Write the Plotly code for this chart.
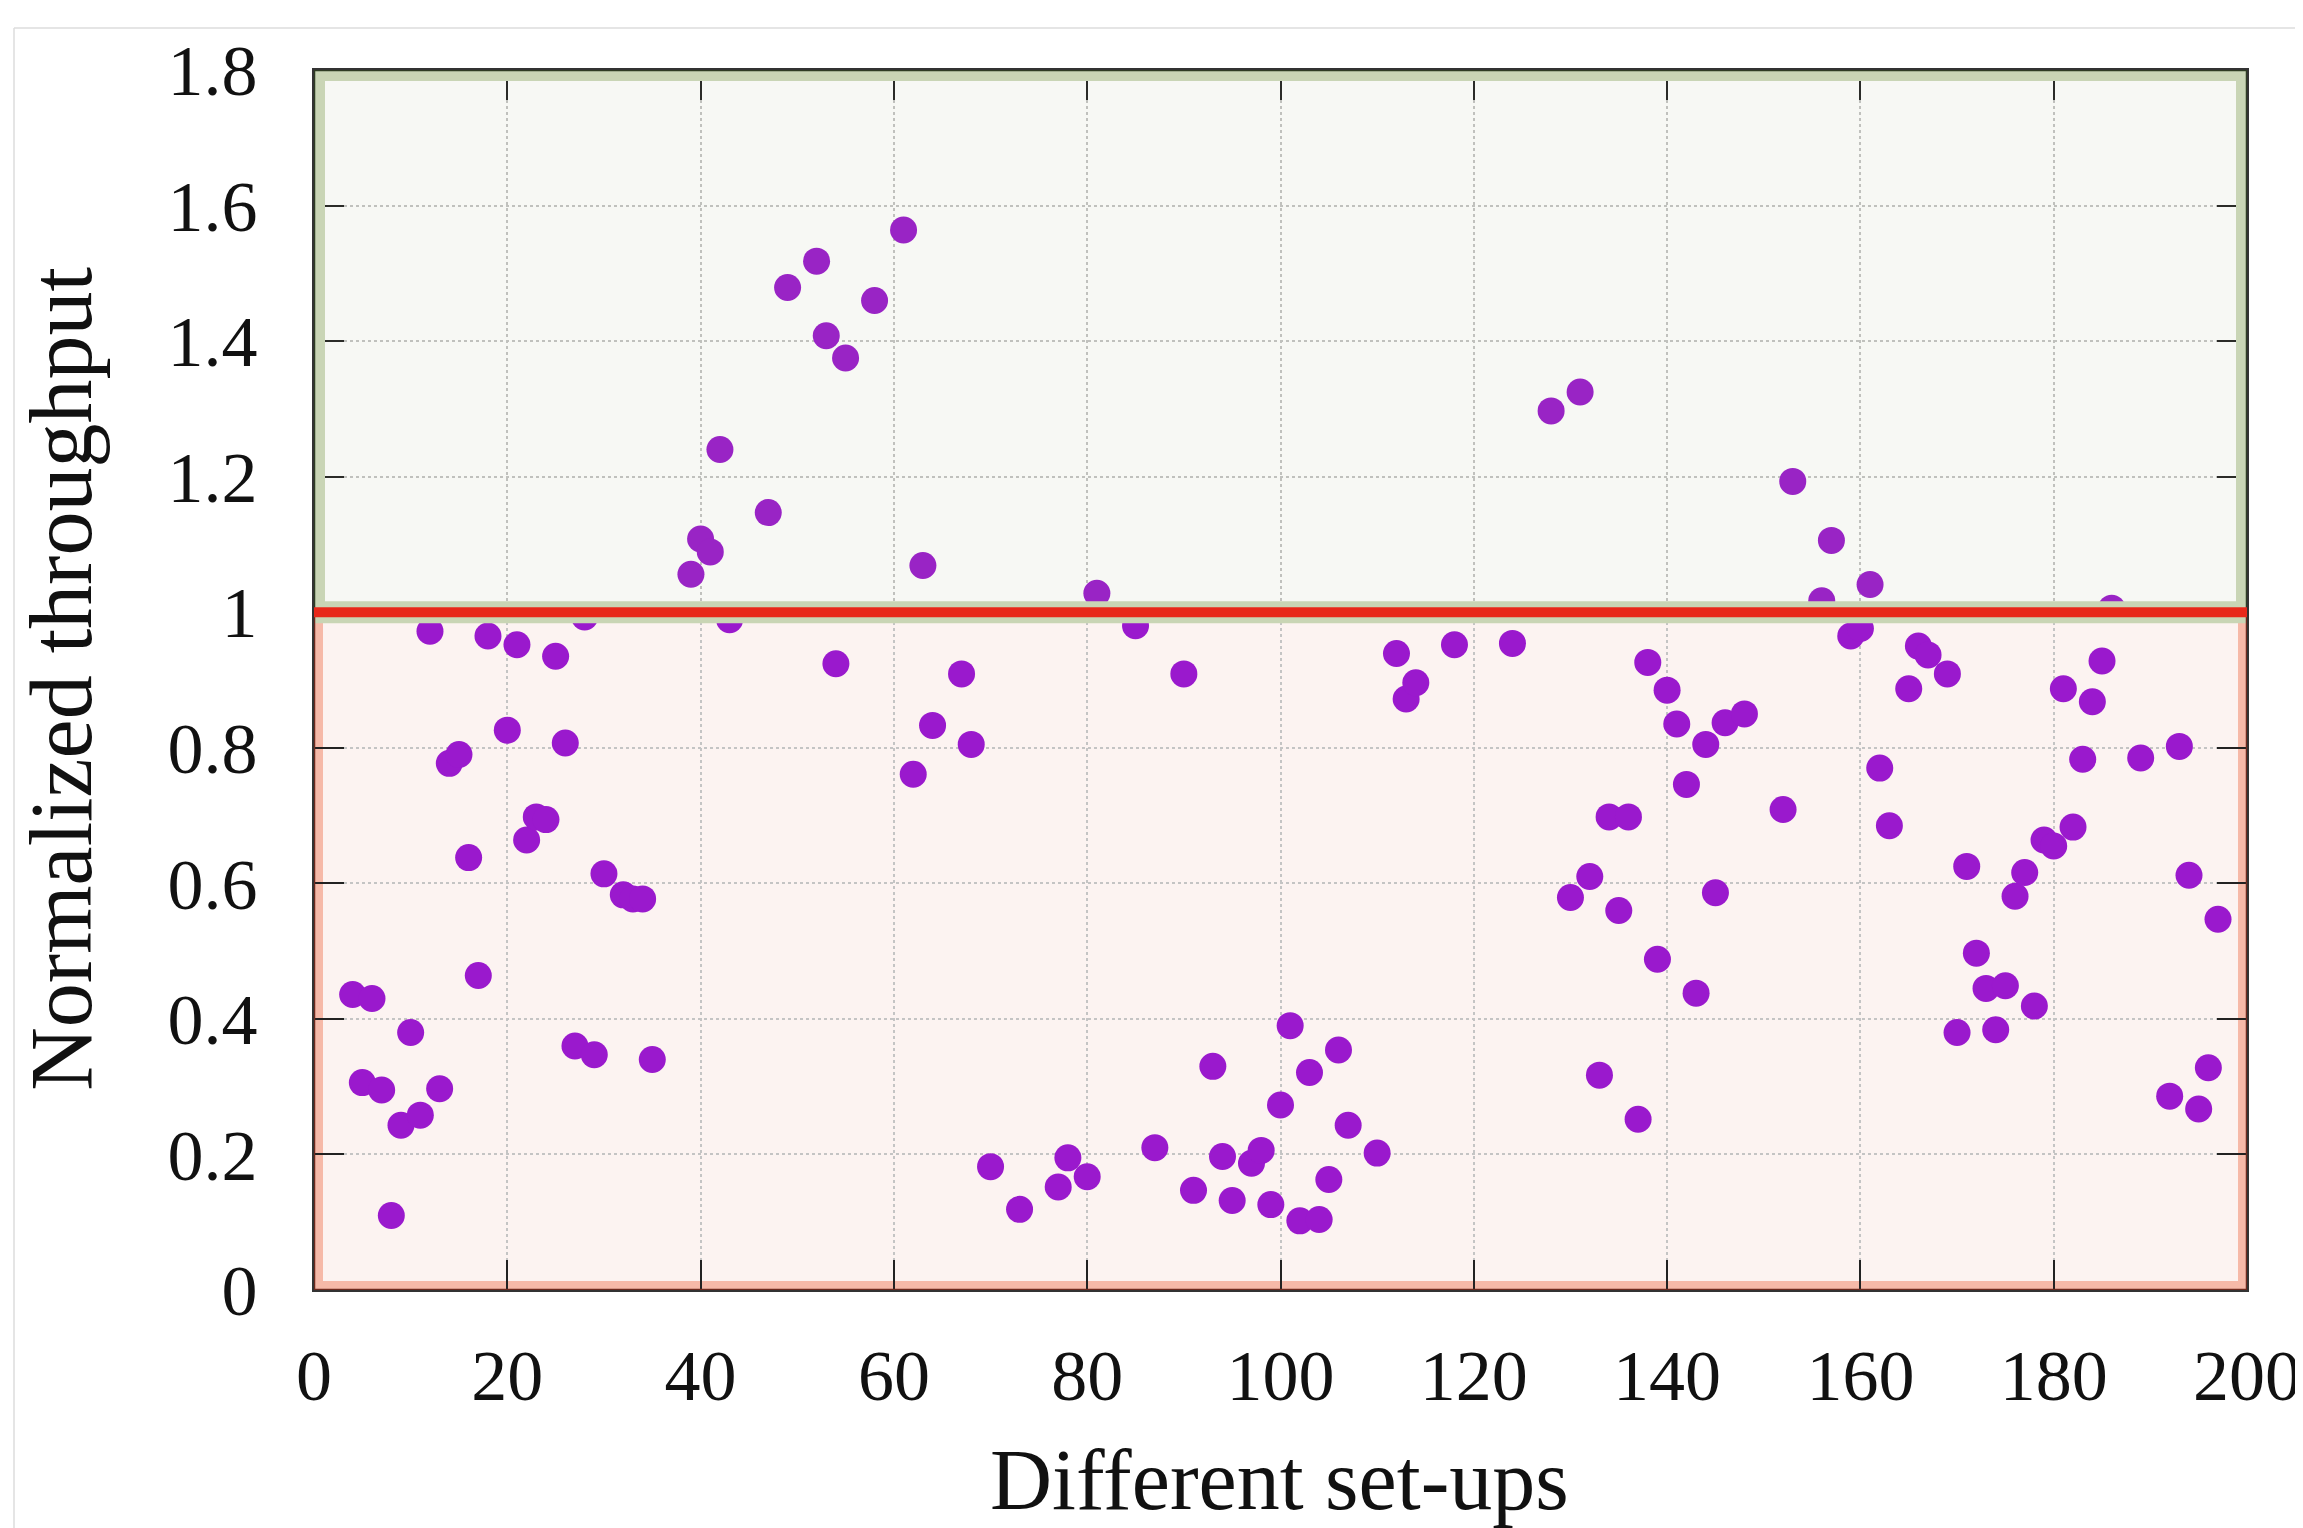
import plotly.graph_objects as go

# Data
setups = [4, 5, 6, 7, 8, 9, 10, 11, 12, 13, 14, 15, 16, 17, 18, 20, 21, 22, 23, 24,
          25, 26, 27, 28, 29, 30, 32, 33, 34, 35, 39, 40, 41, 42, 43, 47, 49, 52, 53, 54,
          55, 58, 61, 62, 63, 64, 67, 68, 70, 73, 77, 78, 80, 81, 85, 87, 90, 91, 93, 94,
          95, 97, 98, 99, 100, 101, 102, 103, 104, 105, 106, 107, 110, 112, 113, 114, 118, 124, 128, 131,
          130, 132, 133, 134, 135, 136, 137, 138, 139, 140, 141, 142, 143, 144, 145, 146, 148, 152, 153, 156,
          157, 159, 160, 161, 162, 163, 165, 166, 167, 169, 170, 171, 172, 173, 174, 175, 176, 177, 178, 179,
          180, 181, 182, 183, 184, 185, 186, 189, 192, 193, 194, 195, 196, 197]
throughput = [0.436, 0.306, 0.43, 0.295, 0.11, 0.243, 0.38, 0.258, 0.972, 0.297, 0.777, 0.79, 0.638, 0.464, 0.965, 0.826, 0.952, 0.664, 0.698, 0.694,
              0.935, 0.807, 0.36, 0.993, 0.347, 0.614, 0.583, 0.577, 0.577, 0.34, 1.056, 1.108, 1.089, 1.24, 0.989, 1.147, 1.479, 1.518, 1.408, 0.924,
              1.375, 1.46, 1.564, 0.761, 1.069, 0.833, 0.909, 0.805, 0.182, 0.119, 0.152, 0.195, 0.167, 1.028, 0.98, 0.21, 0.909, 0.147, 0.33, 0.197,
              0.132, 0.187, 0.206, 0.126, 0.273, 0.39, 0.102, 0.321, 0.104, 0.163, 0.354, 0.243, 0.202, 0.939, 0.872, 0.896, 0.952, 0.954, 1.297, 1.325,
              0.579, 0.61, 0.317, 0.698, 0.56, 0.698, 0.252, 0.926, 0.488, 0.885, 0.835, 0.746, 0.438, 0.805, 0.586, 0.837, 0.85, 0.709, 1.193, 1.017,
              1.106, 0.965, 0.976, 1.041, 0.77, 0.685, 0.887, 0.95, 0.937, 0.909, 0.38, 0.625, 0.497, 0.445, 0.384, 0.449, 0.581, 0.616, 0.419, 0.664,
              0.655, 0.887, 0.683, 0.783, 0.868, 0.928, 1.006, 0.785, 0.286, 0.802, 0.612, 0.267, 0.328, 0.547]

x_ticks = [0, 20, 40, 60, 80, 100, 120, 140, 160, 180, 200]
y_ticks = [0, 0.2, 0.4, 0.6, 0.8, 1.0, 1.2, 1.4, 1.6, 1.8]
y_tick_labels = ["0", "0.2", "0.4", "0.6", "0.8", "1", "1.2", "1.4", "1.6", "1.8"]
threshold = 1.0
x_range = [0, 200]
y_range = [0, 1.8]
x_title = "Different set-ups"
y_title = "Normalized throughput"

FONT = "Liberation Serif"

fig = go.Figure()
fig.add_trace(go.Scatter(
    x=setups, y=throughput, mode="markers",
    marker=dict(size=27, color="#9a19cd", line=dict(width=0)),
    showlegend=False, hoverinfo="x+y",
))

shapes = [
    dict(type="rect", xref="x", yref="y", x0=x_range[0], x1=x_range[1], y0=y_range[0], y1=threshold,
         fillcolor="#fcf3f1", line=dict(color="#f6b9a8", width=18), layer="below"),
    dict(type="rect", xref="x", yref="y", x0=x_range[0], x1=x_range[1], y0=threshold, y1=y_range[1],
         fillcolor="rgba(150,172,110,0.08)", line=dict(color="#c9d5b5", width=22), layer="above"),
    dict(type="rect", xref="x", yref="y", x0=x_range[0], x1=x_range[1], y0=threshold, y1=y_range[1],
         fillcolor="rgba(0,0,0,0)", line=dict(color="#2f3d24", width=2.5), layer="above"),
    dict(type="rect", xref="x", yref="y", x0=x_range[0], x1=x_range[1], y0=y_range[0], y1=threshold,
         fillcolor="rgba(0,0,0,0)", line=dict(color="#6e2a1e", width=2.5), layer="above"),
    dict(type="line", xref="x", yref="y", x0=x_range[0], x1=x_range[1], y0=threshold, y1=threshold,
         line=dict(color="#e8281a", width=10), layer="above"),
    dict(type="line", xref="paper", yref="paper", x0=-0.1552, x1=1.04, y0=1.0344, y1=1.0344,
         line=dict(color="#dddddd", width=1.5)),
    dict(type="line", xref="paper", yref="paper", x0=-0.1552, x1=-0.1552, y0=1.0344, y1=-0.2,
         line=dict(color="#dddddd", width=1.5)),
]

annotations = [
    dict(text=x_title, xref="paper", yref="paper", x=0.4997, y=-0.156, showarrow=False,
         xanchor="center", yanchor="middle", font=dict(family=FONT, size=86, color="#111111")),
    dict(text=y_title, xref="paper", yref="paper", x=-0.1304, y=0.501, showarrow=False, textangle=-90,
         xanchor="center", yanchor="middle", font=dict(family=FONT, size=88, color="#111111")),
]

fig.update_layout(
    width=2295, height=1520,
    margin=dict(l=306, r=56, t=62, b=238, autoexpand=False),
    paper_bgcolor="white", plot_bgcolor="white",
    font=dict(family=FONT, color="#111111"),
    shapes=shapes, annotations=annotations,
    xaxis=dict(
        range=x_range, tickvals=x_ticks, ticktext=[str(v) for v in x_ticks],
        ticks="inside", ticklen=30, tickwidth=2, tickcolor="#222222",
        showline=True, linecolor="#333333", linewidth=2, mirror="ticks",
        showgrid=True, gridcolor="#c4c4c4", griddash="dot", gridwidth=1.5,
        zeroline=False, tickfont=dict(family=FONT, size=72, color="#111111"),
        ticklabelstandoff=22, automargin=False,
    ),
    yaxis=dict(
        range=y_range, tickvals=y_ticks, ticktext=y_tick_labels,
        ticks="inside", ticklen=30, tickwidth=2, tickcolor="#222222",
        showline=True, linecolor="#333333", linewidth=2, mirror="ticks",
        showgrid=True, gridcolor="#c4c4c4", griddash="dot", gridwidth=1.5,
        zeroline=False, tickfont=dict(family=FONT, size=72, color="#111111"),
        ticklabelstandoff=40, automargin=False,
    ),
)

fig.write_html("out.html")
